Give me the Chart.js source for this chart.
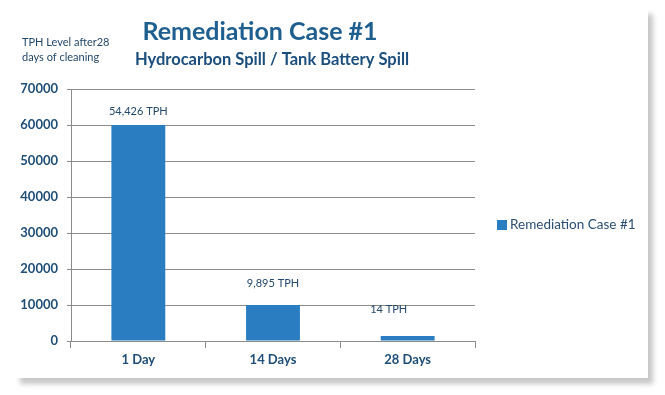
<!DOCTYPE html>
<html>
<head>
<meta charset="utf-8">
<script src="https://cdn.jsdelivr.net/npm/chart.js@4.4.0/dist/chart.umd.min.js"></script>
<style>
  html, body { margin: 0; padding: 0; background: #fff; }
  #wrap { position: relative; width: 665px; height: 395px; overflow: hidden; }
  #card {
    position: absolute; left: 15px; top: 8px; width: 633px; height: 370px;
    background: #fff;
    box-shadow: 5px 6px 5px rgba(0, 0, 0, 0.22);
  }
  #chart { position: absolute; left: 0; top: 0; }
</style>
</head>
<body>
<div id="wrap">
  <div id="card"></div>
  <canvas id="chart" width="665" height="395"></canvas>
</div>
<script>
const categories = ["1 Day", "14 Days", "28 Days"];
const tphValues = [60000, 10000, 1400];
const tphLabels = ["54,426 TPH", "9,895 TPH", "14 TPH"];
const seriesName = "Remediation Case #1";
const yTicks = [0, 10000, 20000, 30000, 40000, 50000, 60000, 70000];

const barBlue = "#2a7dc0";
const navy = "#1f4e79";

// label nudges relative to the top of each bar (style only)
const labelNudge = [[0, -14], [0, -22], [-19, -27]];

const textPlugin = {
  id: "texts",
  afterDraw(chart) {
    const ctx = chart.ctx;
    const area = chart.chartArea;
    ctx.save();
    ctx.textAlign = "center";
    ctx.textBaseline = "middle";

    ctx.fillStyle = "#1f5f90";
    ctx.font = "bold 25px Lato";
    ctx.fillText("Remediation Case #1", 260, 32);
    ctx.fillStyle = "#1d4f7e";
    ctx.font = "bold 16.5px Lato";
    ctx.fillText("Hydrocarbon Spill / Tank Battery Spill", 272, 60);

    ctx.textAlign = "left";
    ctx.fillStyle = "#24496e";
    ctx.font = "11px Lato";
    ctx.fillText("TPH Level after28", 22, 42);
    ctx.fillText("days of cleaning", 22, 57);

    // value labels above the bars
    const meta = chart.getDatasetMeta(0);
    ctx.textAlign = "center";
    ctx.fillStyle = "#24496e";
    ctx.font = "11px Lato";
    meta.data.forEach((bar, i) => {
      ctx.fillText(tphLabels[i], bar.x + labelNudge[i][0], bar.y + labelNudge[i][1]);
    });

    // legend on the right
    const ly = (area.top + area.bottom) / 2 + 10;
    ctx.fillStyle = barBlue;
    ctx.fillRect(area.right + 22, ly - 5, 10, 10);
    ctx.textAlign = "left";
    ctx.fillStyle = "#2b4f74";
    ctx.font = "13.5px Lato";
    ctx.fillText(seriesName, area.right + 35, ly);
    ctx.restore();
  }
};

new Chart(document.getElementById("chart"), {
  type: "bar",
  data: {
    labels: categories,
    datasets: [{
      label: seriesName,
      data: tphValues,
      backgroundColor: barBlue,
      barPercentage: 0.4,
      categoryPercentage: 1
    }]
  },
  options: {
    responsive: false,
    animation: false,
    layout: { padding: { top: 89, right: 190, left: 0, bottom: 0 } },
    plugins: { legend: { display: false }, tooltip: { enabled: false } },
    scales: {
      x: {
        offset: true,
        grid: { offset: true, drawOnChartArea: false, color: "#8c8c8c", tickLength: 7 },
        border: { color: "#8c8c8c" },
        ticks: { color: navy, font: { family: "Lato", weight: "bold", size: 13 }, padding: 4 },
        afterFit(scale) { scale.height = 54; }
      },
      y: {
        min: 0,
        max: 70000,
        afterBuildTicks(scale) { scale.ticks = yTicks.map(v => ({ value: v })); },
        grid: { color: "#8c8c8c", tickLength: 4 },
        border: { color: "#8c8c8c" },
        ticks: {
          color: navy,
          font: { family: "Lato", weight: "bold", size: 13 },
          padding: 9,
          callback: (v) => String(v)
        },
        afterFit(scale) { scale.width = 71; }
      }
    }
  },
  plugins: [textPlugin]
});
</script>
</body>
</html>
